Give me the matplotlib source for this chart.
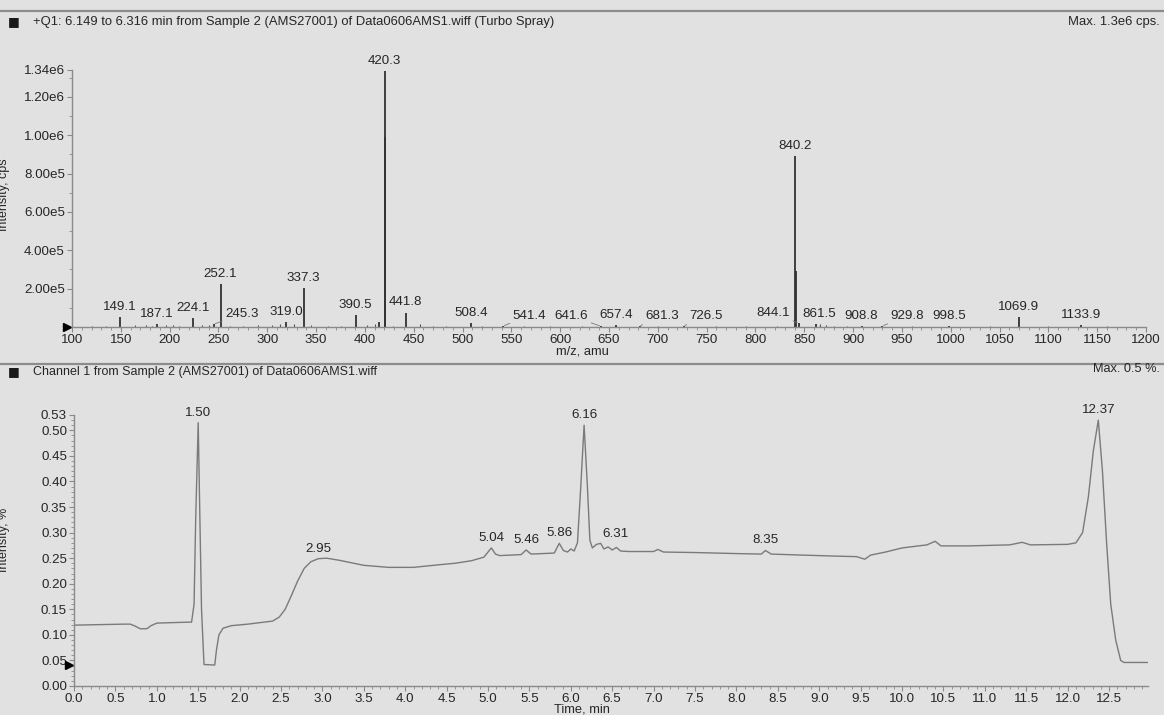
import numpy as np
import matplotlib
matplotlib.use('Agg')
import matplotlib.pyplot as plt
from matplotlib.lines import Line2D
from matplotlib.ticker import FixedLocator, MultipleLocator

plt.rcParams['font.family'] = ['Liberation Sans', 'DejaVu Sans']

# ---- mass spectrum (top) ----
peak_mz = [149.1, 187.1, 224.1, 245.3, 252.1, 319.0, 337.3, 390.5, 414.2, 420.3, 420.8,
           441.8, 508.4, 541.4, 641.6, 657.4, 681.3, 726.5, 840.2, 841.2, 844.1, 861.5,
           908.8, 929.8, 998.5, 1069.9, 1133.9]
peak_int = [5.0e4, 1.5e4, 4.5e4, 1.5e4, 2.25e5, 2.5e4, 2.05e5, 6.0e4, 2.5e4, 1.335e6, 9.9e5,
            7.5e4, 2.0e4, 5e3, 4e3, 1.0e4, 5e3, 5e3, 8.9e5, 2.9e5, 2.0e4, 1.5e4,
            6e3, 5e3, 5e3, 5.0e4, 1.0e4]
noise_mz = [120, 135, 165, 176, 182, 196, 203, 210, 233, 240, 262, 275, 290, 305, 313, 327,
            345, 362, 375, 402, 410, 429, 456, 470, 483, 520, 563, 590, 622, 700, 760, 790,
            822, 866, 872, 880, 894, 960, 1040, 1100, 1160]
noise_int = [4e3, 6e3, 8e3, 1e4, 6e3, 1.2e4, 8e3, 6e3, 1e4, 1.2e4, 6e3, 5e3, 8e3, 1.2e4, 1.8e4,
             1.4e4, 8e3, 6e3, 5e3, 8e3, 1.5e4, 6e3, 1.8e4, 5e3, 6e3, 5e3, 4e3, 4e3, 4e3, 4e3,
             3e3, 3e3, 4e3, 1.5e4, 8e3, 6e3, 4e3, 3e3, 3e3, 3e3, 3e3]
labeled_mz = [149.1, 187.1, 224.1, 245.3, 252.1, 319.0, 337.3, 390.5, 420.3, 441.8, 508.4,
              541.4, 641.6, 657.4, 681.3, 726.5, 840.2, 844.1, 861.5, 908.8, 929.8, 998.5,
              1069.9, 1133.9]
# horizontal label shift (points) for labels moved aside with a leader
label_dx = {245.3: 20, 541.4: 19, 641.6: -21, 681.3: 16, 726.5: 16, 844.1: -18, 929.8: 18,
            861.5: 3}

# ---- chromatogram (bottom) ----
time_min = [0.00, 0.30, 0.60, 0.68, 0.74, 0.80, 0.88, 0.93, 1.00, 1.20, 1.42, 1.45, 1.47, 1.50,
            1.52, 1.54, 1.57, 1.70, 1.72, 1.75, 1.80, 1.90, 2.10, 2.30, 2.40, 2.48, 2.55, 2.62,
            2.70, 2.78, 2.86, 2.95, 3.05, 3.20, 3.50, 3.80, 4.10, 4.40, 4.60, 4.80, 4.95, 5.04,
            5.09, 5.14, 5.40, 5.46, 5.52, 5.80, 5.86, 5.91, 5.96, 6.00, 6.04, 6.08, 6.12, 6.16,
            6.20, 6.23, 6.26, 6.31, 6.36, 6.40, 6.45, 6.50, 6.55, 6.60, 6.70, 7.00, 7.05, 7.12,
            7.50, 8.00, 8.30, 8.35, 8.42, 8.80, 9.20, 9.45, 9.55, 9.62, 9.80, 10.00, 10.30,
            10.40, 10.47, 10.80, 11.30, 11.45, 11.55, 12.00, 12.10, 12.18, 12.25, 12.31, 12.37,
            12.42, 12.47, 12.52, 12.58, 12.64, 12.68, 12.97]
intensity_pct = [0.119, 0.120, 0.121, 0.121, 0.117, 0.112, 0.112, 0.118, 0.123, 0.124, 0.125,
                 0.160, 0.330, 0.515, 0.330, 0.150, 0.042, 0.041, 0.070, 0.100, 0.113, 0.118,
                 0.121, 0.125, 0.127, 0.135, 0.150, 0.175, 0.205, 0.230, 0.243, 0.249, 0.250,
                 0.246, 0.236, 0.232, 0.232, 0.237, 0.240, 0.245, 0.252, 0.270, 0.258, 0.255,
                 0.257, 0.266, 0.258, 0.260, 0.279, 0.265, 0.262, 0.268, 0.264, 0.280, 0.390,
                 0.510, 0.390, 0.285, 0.270, 0.277, 0.279, 0.268, 0.272, 0.266, 0.271, 0.264,
                 0.263, 0.263, 0.267, 0.262, 0.261, 0.259, 0.258, 0.265, 0.258, 0.256, 0.254,
                 0.253, 0.248, 0.256, 0.262, 0.270, 0.276, 0.283, 0.274, 0.274, 0.276, 0.281,
                 0.276, 0.277, 0.280, 0.300, 0.370, 0.460, 0.520, 0.420, 0.280, 0.160, 0.090,
                 0.050, 0.046, 0.046]
chrom_labels = [1.50, 2.95, 5.04, 5.46, 5.86, 6.16, 6.31, 8.35, 12.37]
chrom_dx = {6.31: 14}

TXT = '#262626'
AX = '#8a8a8a'
BG = '#e1e1e1'
W, H = 1164, 715
FS = 9.6

fig = plt.figure(figsize=(11.64, 7.15), dpi=100, facecolor=BG)


def style_axis(ax):
    ax.set_facecolor(BG)
    for s in ['top', 'right']:
        ax.spines[s].set_visible(False)
    for s in ['left', 'bottom']:
        ax.spines[s].set_color(AX)
        ax.spines[s].set_linewidth(1.0)
    ax.tick_params(which='major', length=3.5, width=0.8, color=AX, labelsize=FS,
                   labelcolor=TXT, pad=1.5)
    ax.tick_params(which='minor', length=2, width=0.6, color=AX)


# top panel
ax1 = fig.add_axes([72 / W, 1 - 327 / H, (1146 - 72) / W, (327 - 70) / H])
style_axis(ax1)
ax1.vlines(noise_mz, 0, noise_int, color='#555555', lw=0.8)
ax1.vlines(peak_mz, 0, peak_int, color='#333333', lw=1.3)
ax1.set_xlim(100, 1200)
ax1.set_ylim(0, 1.34e6)
yt = [2e5, 4e5, 6e5, 8e5, 1.0e6, 1.2e6, 1.34e6]
ax1.yaxis.set_major_locator(FixedLocator(yt))
ax1.set_yticklabels(['2.00e5', '4.00e5', '6.00e5', '8.00e5', '1.00e6', '1.20e6', '1.34e6'])
ax1.yaxis.set_minor_locator(MultipleLocator(1e5))
ax1.xaxis.set_major_locator(MultipleLocator(50))
ax1.xaxis.set_minor_locator(MultipleLocator(10))
for mz in labeled_mz:
    h = peak_int[peak_mz.index(mz)]
    dx = label_dx.get(mz, 0)
    arrow = dict(arrowstyle='-', color='#777777', lw=0.6, shrinkA=0, shrinkB=1) if abs(dx) > 5 else None
    ax1.annotate(f'{mz:.1f}', xy=(mz, h), xytext=(dx, 3), textcoords='offset points',
                 ha='center', va='bottom', fontsize=FS, color=TXT, arrowprops=arrow)
ax1.plot([95], [0], marker='>', color='black', markersize=6, clip_on=False)

# bottom panel
ax2 = fig.add_axes([74 / W, 1 - 686 / H, (1148 - 74) / W, (686 - 415) / H])
style_axis(ax2)
ax2.plot(time_min, intensity_pct, color='#7a7a7a', lw=1.0)
ax2.set_xlim(0, 12.97)
ax2.set_ylim(0, 0.53)
ax2.yaxis.set_major_locator(FixedLocator([0, 0.05, 0.10, 0.15, 0.20, 0.25, 0.30, 0.35,
                                          0.40, 0.45, 0.50, 0.53]))
ax2.yaxis.set_major_formatter(plt.FuncFormatter(lambda v, p: f'{v:.2f}'))
ax2.yaxis.set_minor_locator(MultipleLocator(0.01))
ax2.xaxis.set_major_locator(MultipleLocator(0.5))
ax2.xaxis.set_major_formatter(plt.FuncFormatter(lambda v, p: f'{v:.1f}'))
ax2.xaxis.set_minor_locator(MultipleLocator(0.1))
for t in chrom_labels:
    v = np.interp(t, time_min, intensity_pct)
    ax2.annotate(f'{t:.2f}', xy=(t, v), xytext=(chrom_dx.get(t, 0), 3),
                 textcoords='offset points', ha='center', va='bottom', fontsize=FS, color=TXT)
ax2.plot([-0.06], [0.042], marker='>', color='black', markersize=6, clip_on=False)

# axis titles
fig.text(582 / W, 1 - 351 / H, 'm/z, amu', fontsize=9.3, color=TXT, ha='center', va='center')
fig.text(582 / W, 1 - 709 / H, 'Time, min', fontsize=9.3, color=TXT, ha='center', va='center')
fig.text(4 / W, 1 - 195 / H, 'Intensity, cps', rotation=90, fontsize=9, color=TXT,
         va='center', ha='center')
fig.text(4 / W, 1 - 540 / H, 'Intensity, %', rotation=90, fontsize=9, color=TXT,
         va='center', ha='center')

# headers and separators
for yy in [11, 364]:
    fig.add_artist(Line2D([0, 1], [1 - yy / H] * 2, color='#8c8c8c', lw=1.6))
fig.text(8 / W, 1 - 22 / H, '\u25a0', fontsize=9, color='#1a1a1a', va='center',
         family='DejaVu Sans')
fig.text(33 / W, 1 - 22 / H, '+Q1: 6.149 to 6.316 min from Sample 2 (AMS27001) of '
         'Data0606AMS1.wiff (Turbo Spray)', fontsize=9.4, color=TXT, va='center')
fig.text(1160 / W, 1 - 22 / H, 'Max. 1.3e6 cps.', fontsize=9.4, color=TXT, va='center',
         ha='right')
fig.text(8 / W, 1 - 372 / H, '\u25a0', fontsize=9, color='#1a1a1a', va='center',
         family='DejaVu Sans')
fig.text(33 / W, 1 - 372 / H, 'Channel 1 from Sample 2 (AMS27001) of Data0606AMS1.wiff',
         fontsize=9, color=TXT, va='center')
fig.text(1160 / W, 1 - 369 / H, 'Max. 0.5 %.', fontsize=9.2, color=TXT, va='center',
         ha='right')

fig.savefig('out.png', dpi=100, facecolor=BG)
